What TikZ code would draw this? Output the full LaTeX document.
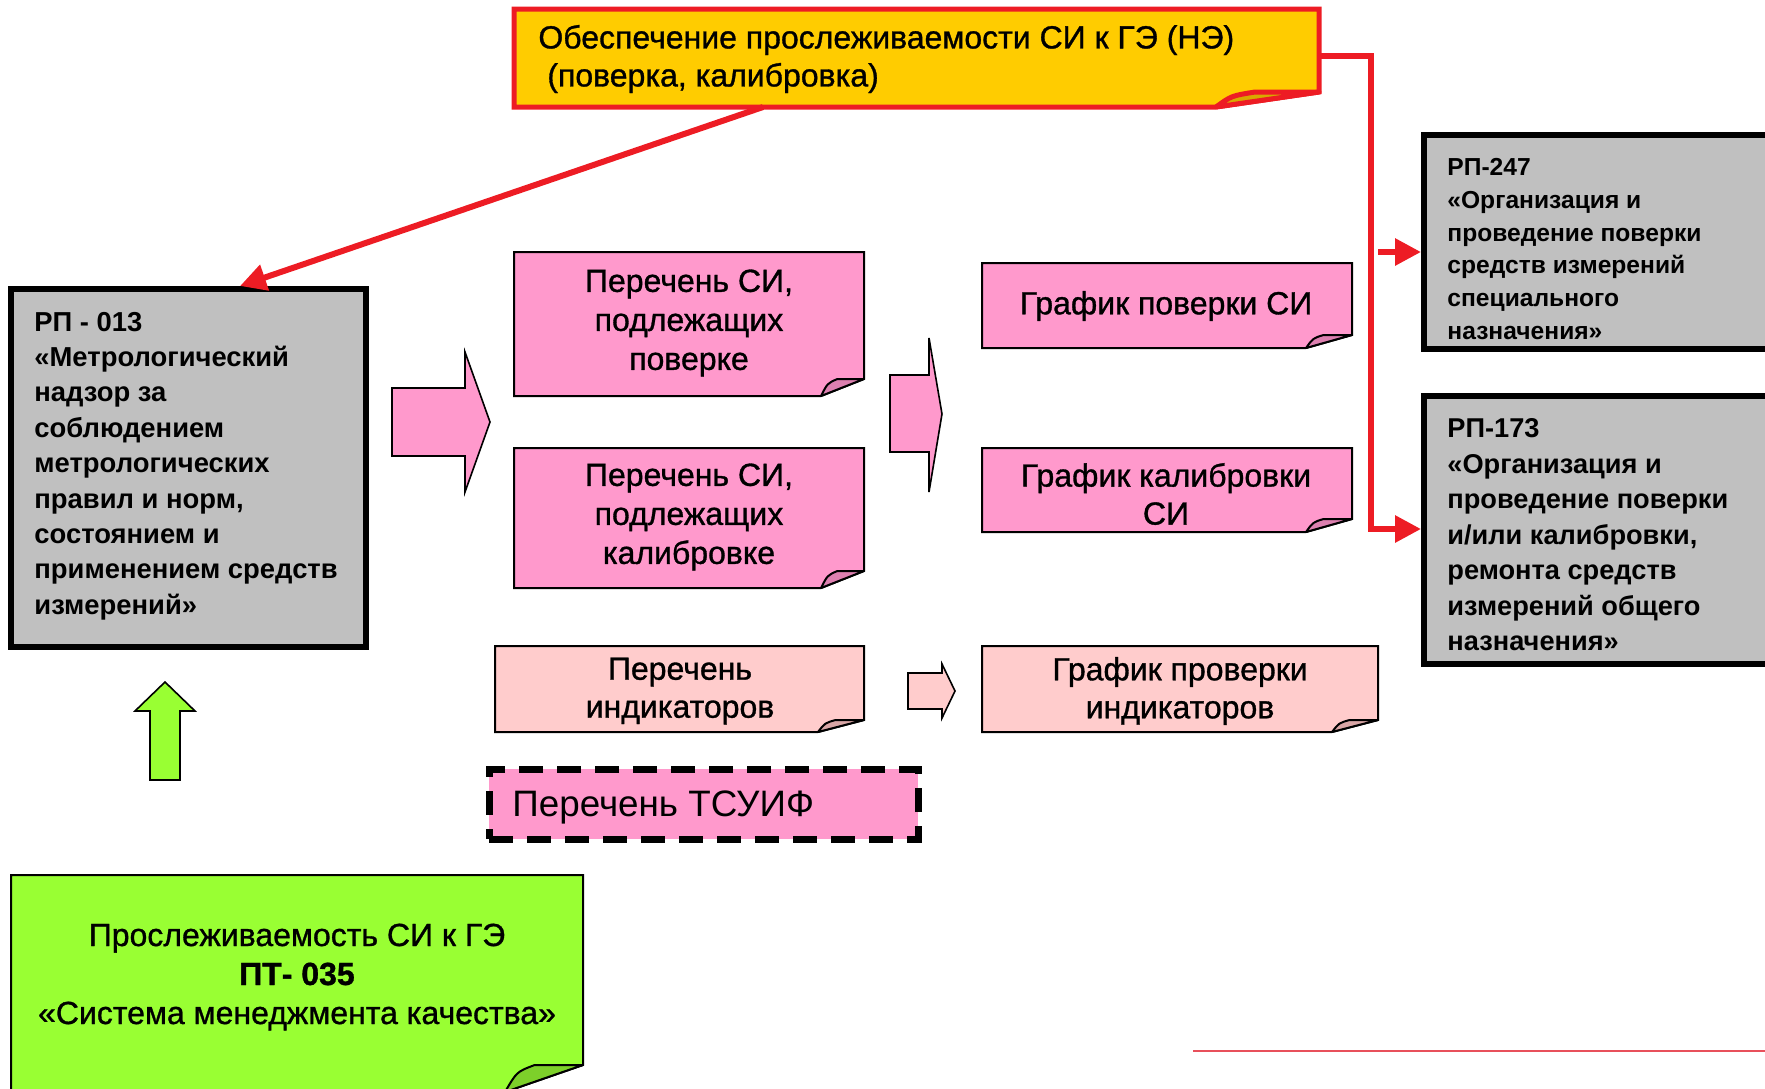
\documentclass[tikz,border=0pt]{standalone}
\usepackage{fontspec}
\setmainfont{Liberation Sans}
\newfontfamily\docfont{Liberation Sans}[FakeBold=1]
\usetikzlibrary{calc,fit,arrows.meta}
\definecolor{redc}{HTML}{ED1C24}
\definecolor{yel}{HTML}{FFCC00}
\definecolor{yelflap}{HTML}{D9A800}
\definecolor{grayc}{HTML}{C0C0C0}
\definecolor{pinkc}{HTML}{FF99CC}
\definecolor{pinkflap}{HTML}{DD80B0}
\definecolor{lpink}{HTML}{FFCCCC}
\definecolor{lpinkflap}{HTML}{D9A6A6}
\definecolor{greenc}{HTML}{99FF33}
\definecolor{greenflap}{HTML}{7DD02A}
\definecolor{thinred}{HTML}{E8505B}
\newcommand\foldbox[6][draw=black,line width=1pt]{%
  \filldraw[#1, fill=#3] (#2.north west) -- (#2.north east) -- ($(#2.south east)+(0,-#6)$) -- ($(#2.south east)+(-#5,0)$) -- (#2.south west) -- cycle;
  \filldraw[#1, fill=#4, line join=round] ($(#2.south east)+(-#5,0)$) .. controls ($(#2.south east)+(-0.85*#5,-0.75*#6)$) .. ($(#2.south east)+(-0.62*#5,-#6)$) -- ($(#2.south east)+(0,-#6)$) -- cycle;
}
\begin{document}
\begin{tikzpicture}[x=0.5pt,y=-0.5pt,
  shapebox/.style={inner sep=0pt, outer sep=0pt},
  rpbox/.style={shapebox, draw=black, line width=3pt, fill=grayc},
  rptext/.style={font=\bfseries\fontsize{13.7pt}{17.7pt}\selectfont, align=left, anchor=west, inner sep=0pt},
  doctext/.style={font=\docfont\fontsize{16pt}{19.5pt}\selectfont, align=center, inner sep=0pt},
  redarrow/.style={draw=redc, line width=3pt, -{Triangle[length=13pt,width=13pt]}},
  blockarrow/.style={draw=black, line width=0.8pt, line join=miter},
]
\useasboundingbox (0,0) rectangle (1765,1088);
\clip (0,0) rectangle (1765,1088);

% top yellow box
\node[shapebox, fit={(514,9)(1319,107)}] (yelbox) {};
\foldbox[draw=redc,line width=2.5pt]{yelbox}{yel}{yelflap}{103}{15}
\node[doctext, align=left, anchor=west, font=\docfont\fontsize{16pt}{19pt}\selectfont] (yeltext) at (538,59)
  {Обеспечение прослеживаемости СИ к ГЭ (НЭ)\\\hspace*{0.28em}(поверка, калибровка)};

% RP-013
\node[rpbox, fit={(11,289)(366,647)}] (rp013) {};
\node[rptext] (rp013t) at (34,466) {РП - 013\\«Метрологический\\надзор за\\соблюдением\\метрологических\\правил и норм,\\состоянием и\\применением средств\\измерений»};

% RP-247
\node[rpbox, fit={(1424,135)(1790,349)}] (rp247) {};
\node[rptext, font=\bfseries\fontsize{12.3pt}{16.4pt}\selectfont] (rp247t) at (1447,249) {РП-247\\«Организация и\\проведение поверки\\средств измерений\\специального\\назначения»};

% RP-173
\node[rpbox, fit={(1424,396)(1790,664)}] (rp173) {};
\node[rptext, font=\bfseries\fontsize{13.6pt}{17.75pt}\selectfont] (rp173t) at (1447,535) {РП-173\\«Организация и\\проведение поверки\\и/или калибровки,\\ремонта средств\\измерений общего\\назначения»};

% pink lists
\node[shapebox, fit={(514,252)(864,396)}] (listA) {};
\foldbox{listA}{pinkc}{pinkflap}{43}{17}
\node[doctext] (listAt) at (689,323) {Перечень СИ,\\подлежащих\\поверке};

\node[shapebox, fit={(514,448)(864,588)}] (listB) {};
\foldbox{listB}{pinkc}{pinkflap}{43}{17}
\node[doctext] (listBt) at (689,517) {Перечень СИ,\\подлежащих\\калибровке};

\node[shapebox, fit={(982,263)(1352,348)}] (grA) {};
\foldbox{grA}{pinkc}{pinkflap}{46}{13}
\node[doctext] (grAt) at (1166,306) {График поверки СИ};

\node[shapebox, fit={(982,448)(1352,532)}] (grB) {};
\foldbox{grB}{pinkc}{pinkflap}{46}{13}
\node[doctext, font=\docfont\fontsize{16pt}{19pt}\selectfont] (grBt) at (1166,494) {График калибровки\\СИ};

\node[shapebox, fit={(495,646)(864,732)}] (indA) {};
\foldbox{indA}{lpink}{lpinkflap}{46}{12}
\node[doctext, font=\docfont\fontsize{16pt}{19pt}\selectfont] (indAt) at (680,691) {Перечень\\индикаторов};

\node[shapebox, fit={(982,646)(1378,732)}] (indB) {};
\foldbox{indB}{lpink}{lpinkflap}{46}{12}
\node[doctext, font=\docfont\fontsize{16pt}{19pt}\selectfont] (indBt) at (1180,691) {График проверки\\индикаторов};

% dashed TSUIF
\node[shapebox, fit={(489,769)(918,839)}, fill=pinkc, draw=black, line width=3.5pt, dash pattern=on 12pt off 7pt] (tsuif) {};
\node[inner sep=0pt, anchor=west, font=\fontsize{18.4pt}{22pt}\selectfont] (tsuift) at (512,807) {Перечень ТСУИФ};

% green box
\node[shapebox, fit={(11,875)(583,1092)}] (pt035) {};
\foldbox{pt035}{greenc}{greenflap}{78}{27}
\node[doctext] (pt035t) at (297,977) {Прослеживаемость СИ к ГЭ\\{\bfseries ПТ- 035}\\«Система менеджмента качества»};

% block arrows
\filldraw[blockarrow, fill=pinkc] (392,388) -- (465,388) -- (465,352) -- (490,422) -- (465,492) -- (465,456) -- (392,456) -- cycle;
\filldraw[blockarrow, fill=pinkc] (890,375) -- (929,375) -- (929,338) -- (942,414) -- (929,492) -- (929,452) -- (890,452) -- cycle;
\filldraw[blockarrow, fill=lpink] (908,673) -- (942,673) -- (942,664) -- (955,691) -- (942,718) -- (942,709) -- (908,709) -- cycle;
\filldraw[blockarrow, fill=greenc] (150,780) -- (150,711) -- (135,711) -- (165,682) -- (195,711) -- (180,711) -- (180,780) -- cycle;

% red connectors
\draw[redarrow] ($(yelbox.south west)+(249,0)$) -- ($(rp013.north west)+(229,-3)$);
\draw[redarrow] ($(yelbox.north east)+(0,47)$) -- (1371,56) -- (1371,529) -- ($(rp173.north west)+(-3,133)$);
\coordinate (br) at (1378,252);
\draw[redarrow] (br) -- ($(rp247.north west)+(-3,117)$);

% thin red line
\coordinate (ln1) at (1193,1051);
\coordinate (ln2) at (1765,1051);
\draw[thinred, line width=1pt] (ln1) -- (ln2);
\end{tikzpicture}
\end{document}
